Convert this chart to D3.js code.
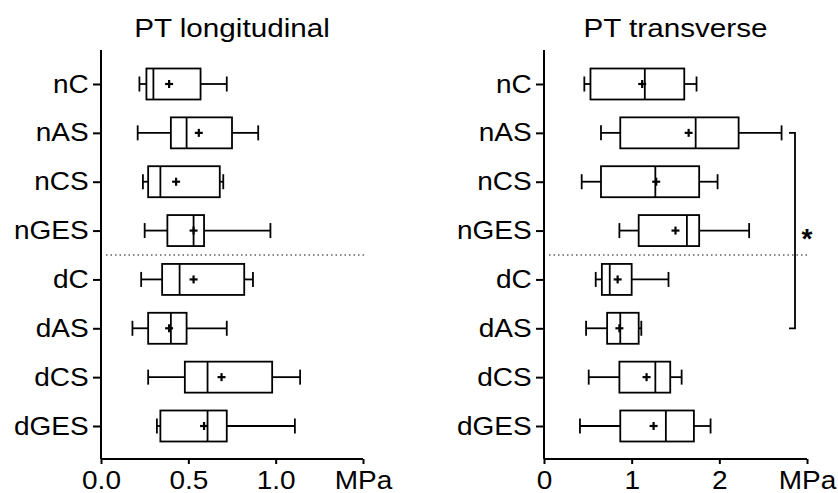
<!DOCTYPE html>
<html>
<head>
<meta charset="utf-8">
<script src="https://cdn.jsdelivr.net/npm/d3@7"></script>
<style>
  body { margin: 0; background: #fff; }
  svg { display: block; font-family: "Liberation Sans", Arial, sans-serif; }
</style>
</head>
<body>
<svg width="838" height="493"></svg>
<script>
const groups = ["nC", "nAS", "nCS", "nGES", "dC", "dAS", "dCS", "dGES"];

// PT longitudinal (MPa)
const longMin  = [0.22, 0.21, 0.24, 0.25, 0.23, 0.18, 0.27, 0.32];
const longQ1   = [0.26, 0.40, 0.27, 0.38, 0.35, 0.27, 0.48, 0.34];
const longMed  = [0.30, 0.49, 0.34, 0.53, 0.45, 0.40, 0.61, 0.61];
const longQ3   = [0.57, 0.75, 0.68, 0.59, 0.82, 0.49, 0.98, 0.72];
const longMax  = [0.72, 0.90, 0.70, 0.97, 0.87, 0.72, 1.14, 1.11];
const longMean = [0.39, 0.56, 0.43, 0.53, 0.53, 0.39, 0.69, 0.59];

// PT transverse (MPa)
const transMin  = [0.46, 0.65, 0.43, 0.86, 0.59, 0.48, 0.51, 0.41];
const transQ1   = [0.53, 0.87, 0.65, 1.08, 0.66, 0.72, 0.86, 0.87];
const transMed  = [1.15, 1.73, 1.27, 1.63, 0.75, 0.87, 1.27, 1.39];
const transQ3   = [1.60, 2.22, 1.77, 1.77, 1.00, 1.08, 1.44, 1.71];
const transMax  = [1.74, 2.71, 1.98, 2.34, 1.42, 1.11, 1.57, 1.90];
const transMean = [1.12, 1.65, 1.28, 1.50, 0.84, 0.86, 1.17, 1.25];

const longTicks = [0, 0.5, 1.0, 1.5];
const longTickLabels = ["0.0", "0.5", "1.0", "MPa"];
const transTicks = [0, 1, 2, 3];
const transTickLabels = ["0", "1", "2", "MPa"];

// significance bracket between nAS and dAS (transverse)
const sigPair = ["nAS", "dAS"];
const sigLabel = "*";

const svg = d3.select("svg");
const plotTop = 50, plotBottom = 459;
const stretch = "scale(1.12,1)";

const y = d3.scalePoint()
  .domain(groups)
  .range([84, 426]);

function drawPanel(opts) {
  const x = d3.scaleLinear()
    .domain(opts.domain)
    .range([opts.left, opts.right]);

  const g = svg.append("g");

  const rows = groups.map((name, i) => ({
    name,
    min: opts.min[i], q1: opts.q1[i], med: opts.med[i],
    q3: opts.q3[i], max: opts.max[i], mean: opts.mean[i]
  }));

  // dotted separator between n- and d- groups
  const sepY = (y("nGES") + y("dC")) / 2;
  g.append("line")
    .attr("x1", opts.left + 5)
    .attr("x2", opts.right + 2)
    .attr("y1", sepY)
    .attr("y2", sepY)
    .attr("stroke", "#111")
    .attr("stroke-width", 1.2)
    .attr("stroke-dasharray", "1.5,3");

  const box = g.selectAll("g.box")
    .data(rows)
    .enter()
    .append("g")
    .attr("class", "box")
    .attr("transform", d => `translate(0,${y(d.name)})`)
    .attr("stroke", "#000")
    .attr("stroke-width", 1.8)
    .attr("fill", "none");

  const bh = 15.5, ch = 7.5;

  box.append("line")
    .attr("x1", d => x(d.min)).attr("x2", d => x(d.q1))
    .attr("y1", 0).attr("y2", 0);
  box.append("line")
    .attr("x1", d => x(d.q3)).attr("x2", d => x(d.max))
    .attr("y1", 0).attr("y2", 0);
  box.append("line")
    .attr("x1", d => x(d.min)).attr("x2", d => x(d.min))
    .attr("y1", -ch).attr("y2", ch);
  box.append("line")
    .attr("x1", d => x(d.max)).attr("x2", d => x(d.max))
    .attr("y1", -ch).attr("y2", ch);
  box.append("rect")
    .attr("x", d => x(d.q1))
    .attr("y", -bh)
    .attr("width", d => x(d.q3) - x(d.q1))
    .attr("height", bh * 2)
    .attr("fill", "#fff");
  box.append("line")
    .attr("x1", d => x(d.med)).attr("x2", d => x(d.med))
    .attr("y1", -bh).attr("y2", bh);

  // mean "+"
  box.append("line")
    .attr("x1", d => x(d.mean) - 4).attr("x2", d => x(d.mean) + 4)
    .attr("y1", 0).attr("y2", 0)
    .attr("stroke-width", 2.2);
  box.append("line")
    .attr("x1", d => x(d.mean)).attr("x2", d => x(d.mean))
    .attr("y1", -4).attr("y2", 4)
    .attr("stroke-width", 2.2);

  // axes
  const yAxis = g.append("g")
    .attr("transform", `translate(${opts.left},0)`)
    .call(d3.axisLeft(y).tickSize(8).tickPadding(3));
  yAxis.select(".domain")
    .attr("d", `M0,${plotTop}V${plotBottom}`);

  const xAxis = g.append("g")
    .attr("transform", `translate(0,${plotBottom})`)
    .call(d3.axisBottom(x)
      .tickValues(opts.ticks)
      .tickFormat((d, i) => opts.tickLabels[i])
      .tickSize(5)
      .tickPadding(7));
  xAxis.select(".domain")
    .attr("d", `M${opts.left},0H${opts.right}`);

  [yAxis, xAxis].forEach(ax => {
    ax.selectAll(".domain, .tick line")
      .attr("stroke", "#000")
      .attr("stroke-width", 2);
    ax.selectAll("text")
      .attr("fill", "#000")
      .style("font-size", "25px")
      .style("font-family", "'Liberation Sans', Arial, sans-serif")
      .attr("transform", stretch);
  });

  g.append("text")
    .attr("transform", `translate(${(opts.left + opts.right) / 2},37) ${stretch}`)
    .attr("text-anchor", "middle")
    .style("font-size", "26.5px")
    .text(opts.title);

  return x;
}

drawPanel({
  title: "PT longitudinal",
  left: 101, right: 363,
  domain: [0, 1.5],
  ticks: longTicks, tickLabels: longTickLabels,
  min: longMin, q1: longQ1, med: longMed, q3: longQ3, max: longMax, mean: longMean
});

drawPanel({
  title: "PT transverse",
  left: 544, right: 807,
  domain: [0, 3],
  ticks: transTicks, tickLabels: transTickLabels,
  min: transMin, q1: transQ1, med: transMed, q3: transQ3, max: transMax, mean: transMean
});

// bracket
const bx = 795;
const bracket = svg.append("g")
  .attr("fill", "none")
  .attr("stroke", "#000")
  .attr("stroke-width", 1.8);
bracket.append("path")
  .attr("d", `M${bx - 6},${y(sigPair[0])}H${bx}V${y(sigPair[1])}H${bx - 6}`);

svg.append("text")
  .attr("x", bx + 12)
  .attr("y", (y(sigPair[0]) + y(sigPair[1])) / 2 + 17)
  .attr("text-anchor", "middle")
  .style("font-size", "28px")
  .style("font-weight", "bold")
  .text(sigLabel);
</script>
</body>
</html>
